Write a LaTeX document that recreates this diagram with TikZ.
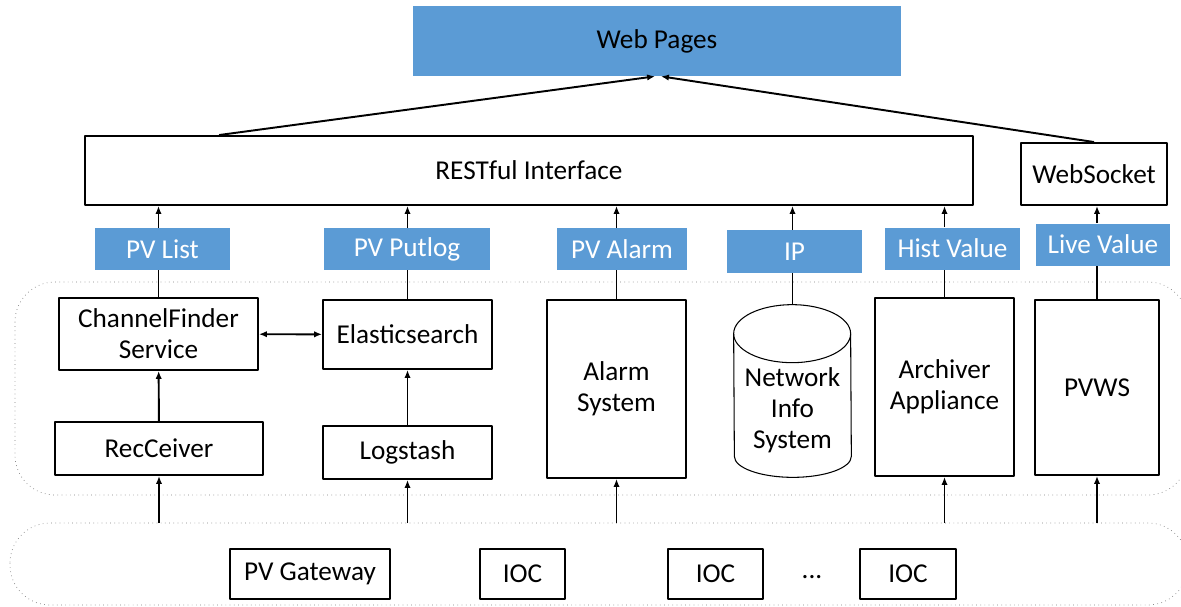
\documentclass[tikz,border=0pt]{standalone}
\usepackage{fontspec}
\setmainfont{Carlito}
\usetikzlibrary{arrows.meta}
\definecolor{webblue}{HTML}{5B9BD5}
\begin{document}
\begin{tikzpicture}[x=0.02cm,y=-0.02cm,line join=round,>={Latex[length=4.5pt,width=3.6pt]},
	font=\fontsize{15.5}{17.6}\selectfont]
	\tikzset{box style/.style={draw,line width=1.1pt,inner sep=1pt,align=center},
		tag style/.style={fill=webblue,text=white,inner sep=1pt,minimum height=0.84cm},
		zone style/.style={draw=gray,dotted,rounded corners=0.8cm},
		link style/.style={line width=1.1pt}}
	\useasboundingbox (0,0) rectangle (1181,606);
	% zones
	\draw[zone style] (15,282) rectangle (1188,495);
	\draw[zone style] (10,523) rectangle (1188,605);
	\coordinate (low) at (0,523);
	% top
	\node[fill=webblue,minimum width=9.76cm,minimum height=1.4cm] (web) at (657,41) {Web Pages};
	\node[box style,minimum width=17.76cm,minimum height=1.38cm] (rest) at (529,170.5) {RESTful Interface};
	\node[box style,minimum width=2.92cm,minimum height=1.24cm] (wsock) at (1094,174) {WebSocket};
	% services
	\node[box style,minimum width=3.98cm,minimum height=1.44cm] (cf) at (158.5,334) {ChannelFinder\\Service};
	\node[box style,minimum width=3.38cm,minimum height=1.38cm] (es) at (407.5,334.5) {Elasticsearch};
	\node[box style,minimum width=4.16cm,minimum height=1.06cm] (rec) at (159,448.5) {RecCeiver};
	\node[box style,minimum width=3.38cm,minimum height=1.06cm] (log) at (407.5,452.5) {Logstash};
	\node[box style,minimum width=2.78cm,minimum height=3.56cm] (alarm) at (616.5,389) {Alarm\\System};
	\node[minimum width=2.34cm,minimum height=3.44cm,inner sep=0pt] (nis) at (792.5,391) {};
	\draw[line width=0.6pt] ([yshift=-0.58cm]nis.north west)
		arc[start angle=180,end angle=0,x radius=1.17cm,y radius=0.58cm]
		-- ([yshift=0.42cm]nis.south east)
		arc[start angle=0,end angle=-180,x radius=1.17cm,y radius=0.42cm] -- cycle;
	\draw[line width=0.6pt] ([yshift=-0.58cm]nis.north west)
		arc[start angle=180,end angle=360,x radius=1.17cm,y radius=0.58cm];
	\node[align=center] (nistext) at (792.5,410) {Network\\Info\\System};
	\node[box style,minimum width=2.78cm,minimum height=3.56cm] (arch) at (944.5,387) {Archiver\\Appliance};
	\node[box style,minimum width=2.48cm,minimum height=3.5cm] (pvws) at (1097,387.5) {PVWS};
	% tags
	\node[tag style,minimum width=2.7cm] (pvlist) at (162.5,249) {PV List};
	\node[tag style,minimum width=3.32cm] (putlog) at (407,249) {PV Putlog};
	\node[tag style,minimum width=2.6cm] (pvalarm) at (622,249) {PV Alarm};
	\node[tag style,minimum width=2.7cm,minimum height=0.86cm] (ip) at (794.5,251.5) {IP};
	\node[tag style,minimum width=2.7cm] (hist) at (952.5,248.5) {Hist Value};
	\node[tag style,minimum width=2.68cm] (live) at (1103,244.5) {Live Value};
	% sources
	\node[box style,minimum width=3.2cm,minimum height=1cm] (gw) at (310,574) {PV Gateway};
	\node[box style,minimum width=1.7cm,minimum height=1cm] (ioca) at (522.5,574) {IOC};
	\node[box style,minimum width=1.9cm,minimum height=1cm] (iocb) at (715.5,574) {IOC};
	\node (dots) at (812,577) {...};
	\node[box style,minimum width=1.92cm,minimum height=1cm] (iocc) at (908,574) {IOC};
	% links
	\foreach \src/\tag/\dst in {cf/pvlist/rest,es/putlog/rest,alarm/pvalarm/rest,nis/ip/rest,arch/hist/rest,pvws/live/wsock}{
		\draw[link style] (\src.north) -- (\src.north |- \tag.south);
		\draw[link style,->] (\src.north |- \tag.north) -- (\src.north |- \dst.south);
	}
	\foreach \dst in {rec,log,alarm,arch,pvws}
		\draw[link style,->] (\dst.south |- low) -- (\dst.south);
	\draw[link style,->] (rec) -- (cf);
	\draw[link style,->] (log) -- (es);
	\draw[link style,<->] (cf) -- (es);
	\draw[link style,->] ([xshift=2.7cm]rest.north west) -- ([xshift=-0.04cm]web.south);
	\draw[link style,->] (wsock.north) -- ([xshift=0.08cm]web.south);
\end{tikzpicture}
\end{document}
